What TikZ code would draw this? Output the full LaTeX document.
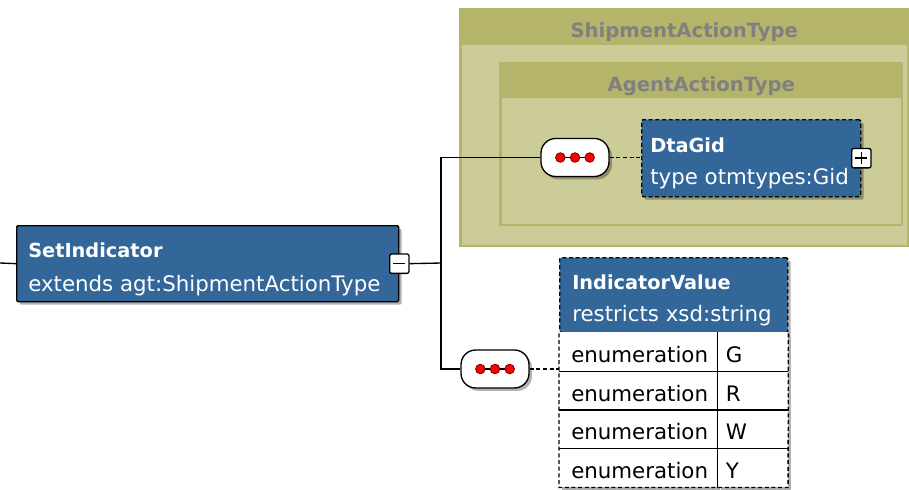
\documentclass[tikz,border=0pt]{standalone}
\usepackage{fontspec}
\setmainfont{DejaVu Sans}
\usetikzlibrary{positioning,shadows}
\definecolor{boxblue}{HTML}{336699}
\definecolor{olivedark}{HTML}{B4B46A}
\definecolor{olivelight}{HTML}{CCCC99}
\definecolor{groupgray}{HTML}{808080}

\begin{document}
\begin{tikzpicture}[x=0.75pt,y=-0.75pt,
	group/.style={fill=olivedark,anchor=north west,inner sep=0pt},
	grouptitle/.style={anchor=base,inner sep=0pt,text=groupgray,font=\fontsize{14.7}{17}\selectfont\bfseries},
	boxshadow/.style={drop shadow={shadow xshift=2.2pt,shadow yshift=-2.2pt,opacity=0.3,fill=black}},
	elem/.style={draw=black,line width=1pt,fill=boxblue,anchor=north west,inner sep=0pt,rounded corners=1pt,boxshadow},
	optional/.style={dash pattern=on 3pt off 2pt},
	elemname/.style={anchor=base west,inner sep=0pt,text=white,font=\fontsize{14.5}{17}\selectfont\bfseries},
	elemtype/.style={anchor=base west,inner sep=0pt,text=white,font=\fontsize{16}{19}\selectfont},
	seq/.style={draw=black,line width=1pt,fill=white,rounded corners=11pt,minimum width=51pt,minimum height=28.5pt,boxshadow},
	expander/.style={draw=black,line width=1pt,fill=white,rounded corners=1.5pt,minimum size=14.5pt,inner sep=0pt},
	facetkey/.style={fill=white,anchor=north west,minimum width=118.5pt,minimum height=29.06pt,text width=100.5pt,align=left,inner xsep=9pt,inner ysep=0pt,text height=16pt,text depth=0pt,font=\fontsize{16}{19}\selectfont,boxshadow},
	facetval/.style={fill=white,minimum width=52.5pt,minimum height=29.06pt,text width=40.5pt,align=left,inner xsep=6pt,inner ysep=0pt,text height=16pt,text depth=0pt,font=\fontsize{16}{19}\selectfont,boxshadow},
	reddot/.style={fill=red,draw=red!45!black,line width=0.6pt},
	conn/.style={line width=1pt}]
	\useasboundingbox (0,0) rectangle (909,489);
	% base type groups
	\node[group,minimum width=337.5pt,minimum height=179.25pt] (shipment) at (459,8) {};
	\fill[olivelight] ([shift={(3,37)}]shipment.north west) rectangle ([shift={(-3,-3)}]shipment.south east);
	\node[grouptitle] (shipmenttitle) at ([shift={(0,29)}]shipment.north) {ShipmentActionType};
	\node[group,minimum width=303pt,minimum height=123pt] (agent) at (499,62) {};
	\fill[olivelight] ([shift={(3,36)}]agent.north west) rectangle ([shift={(-3,-3)}]agent.south east);
	\node[grouptitle] (agenttitle) at ([shift={(0,29)}]agent.north) {AgentActionType};
	% elements
	\node[elem,minimum width=286.5pt,minimum height=57pt] (set) at (16,225) {};
	\node[elemname] (setname) at ([shift={(12,32)}]set.north west) {SetIndicator};
	\node[elemtype] (settype) at ([shift={(12,66)}]set.north west) {extends agt:ShipmentActionType};
	\node[expander] (setcollapse) at (set.east) {};
	\draw[line width=1.2pt] ([xshift=-4.5pt]setcollapse.center) -- ([xshift=4.5pt]setcollapse.center);
	\node[elem,optional,minimum width=164.25pt,minimum height=57.75pt] (dtagid) at (641,119) {};
	\node[elemname] (dtagidname) at ([shift={(9,33)}]dtagid.north west) {DtaGid};
	\node[elemtype] (dtagidtype) at ([shift={(9,65)}]dtagid.north west) {type otmtypes:Gid};
	\node[expander] (dtagidexpand) at (dtagid.east) {};
	\draw[line width=1.2pt] ([xshift=-4.5pt]dtagidexpand.center) -- ([xshift=4.5pt]dtagidexpand.center)
		([yshift=-4.5pt]dtagidexpand.center) -- ([yshift=4.5pt]dtagidexpand.center);
	% sequences
	\node[seq] (seq1) at (575,157.5) {};
	\node[seq] (seq2) at (495,369) {};
	\foreach \s in {seq1,seq2}{
		\draw[line width=1.1pt] ([xshift=-11pt]\s.center) -- ([xshift=11pt]\s.center);
		\foreach \dx in {-11,0,11}
			\filldraw[reddot] ([xshift=\dx pt]\s.center) circle (3.6pt);
	}
	% simple type with facets
	\node[elem,optional,minimum width=171pt,minimum height=56.25pt] (indval) at (559,257) {};
	\node[elemname] (indvalname) at ([shift={(13,32)}]indval.north west) {IndicatorValue};
	\node[elemtype] (indvaltype) at ([shift={(13,64)}]indval.north west) {restricts xsd:string};
	\foreach \val [count=\i] in {G,R,W,Y}{
		\node[facetkey] (key\i) at (559,{332+38.75*(\i-1)}) {enumeration};
		\node[facetval,right=0pt of key\i] (val\i) {\val};
	}
	\foreach \i in {1,2,3}
		\draw[line width=1pt] (key\i.south west) -- (val\i.south east);
	\draw[line width=1pt] (val1.north west) -- (val4.south west);
	\draw[line width=1pt,optional] (indval.south west) -- (key4.south west) -- (val4.south east) -- (indval.south east);
	% connectors
	\coordinate (stub) at (0,263);
	\coordinate (fork) at (441,263);
	\draw[conn] (stub) -- (set.west);
	\draw[conn] (setcollapse.east) -- (fork);
	\draw[conn] (fork) |- (seq1.west);
	\draw[conn] (fork) |- (seq2.west);
	\draw[conn,optional] (seq1.east) -- (seq1.east -| dtagid.west);
	\draw[conn,optional] (seq2.east) -- (seq2.east -| indval.west);
\end{tikzpicture}
\end{document}
